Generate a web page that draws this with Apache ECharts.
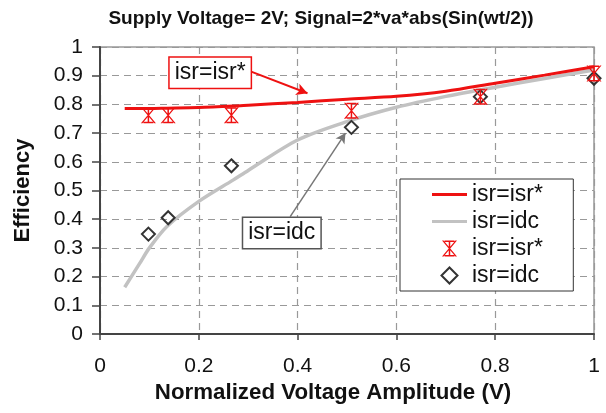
<!DOCTYPE html>
<html>
<head>
<meta charset="utf-8">
<script src="https://cdn.jsdelivr.net/npm/echarts@6/dist/echarts.min.js"></script>
<style>
  html, body { margin: 0; padding: 0; background: #fff; }
  #chart { width: 606px; height: 413px; }
</style>
</head>
<body>
<div id="chart"></div>
<script>
// Simulated efficiency curves (x = normalized voltage amplitude)
const curveX   = [0.05, 0.08, 0.1, 0.135, 0.2, 0.27, 0.3, 0.4, 0.5, 0.6, 0.7, 0.8, 0.9, 1.0];
const isrStarY = [0.786, 0.786, 0.786, 0.787, 0.789, 0.794, 0.797, 0.807, 0.818, 0.828, 0.846, 0.874, 0.902, 0.931];
const isrIdcY  = [0.163, 0.245, 0.30, 0.374, 0.462, 0.537, 0.57, 0.676, 0.74, 0.79, 0.828, 0.86, 0.89, 0.92];

// Measured points
const measX      = [0.098, 0.138, 0.266, 0.509, 0.770, 1.0];
const measStarY  = [0.762, 0.762, 0.762, 0.778, 0.827, 0.908];
const measIdcY   = [0.348, 0.405, 0.586, 0.720, 0.827, 0.891];

const xTicks = [0, 0.2, 0.4, 0.6, 0.8, 1];

const FONT = '"Liberation Sans", Arial, sans-serif';
const RED = '#ee1111';
const GRAY = '#c2c2c2';

// Excel-style star marker built from thin filled strokes:
// two diagonals, a vertical bar and caps at top and bottom
const starSymbol = 'path://' +
  'M0,0L1.6,0L15,16L13.4,16Z' +
  'M13.4,0L15,0L1.6,16L0,16Z' +
  'M6.75,0L8.25,0L8.25,16L6.75,16Z' +
  'M2.5,0L12.5,0L12.5,1.5L2.5,1.5Z' +
  'M2.5,14.5L12.5,14.5L12.5,16L2.5,16Z';
const diamondSymbol = 'path://M6,0L12,6L6,12L0,6Z';
// Plain bar used as legend sample for the curves
const lineIcon = 'path://M0,0L35,0L35,3L0,3Z';

function zip(xs, ys) { return xs.map((x, i) => [x, ys[i]]); }

const chart = echarts.init(document.getElementById('chart'), null, { renderer: 'canvas' });

const option = {
  animation: false,
  backgroundColor: '#fff',
  title: {
    text: 'Supply Voltage= 2V; Signal=2*va*abs(Sin(wt/2))',
    left: 316, top: 4, textAlign: 'center',
    textStyle: { fontFamily: FONT, fontWeight: 'bold', fontSize: 19, color: '#111' }
  },
  grid: {
    left: 100, right: 12, top: 47, bottom: 79,
    show: true, borderColor: '#999', borderWidth: 1.5, backgroundColor: 'transparent'
  },
  xAxis: {
    type: 'value', min: 0, max: 1, interval: 0.2,
    name: 'Normalized Voltage Amplitude (V)', nameLocation: 'middle', nameGap: 43,
    nameTextStyle: {
      fontFamily: FONT, fontWeight: 'bold', fontSize: 22.3, color: '#111',
      padding: [0, 28, 0, 0]
    },
    axisLine: { show: true, onZero: false, lineStyle: { color: '#444', width: 2 } },
    axisTick: { show: true, length: 6, lineStyle: { color: '#444', width: 1.5 } },
    axisLabel: {
      fontFamily: FONT, fontSize: 21, color: '#111', margin: 22,
      formatter: v => String(xTicks.find(t => Math.abs(t - v) < 1e-9) ?? v)
    },
    splitLine: { show: true, lineStyle: { color: '#999', type: [7, 5], width: 1.2 } }
  },
  yAxis: {
    type: 'value', min: 0, max: 1, interval: 0.1,
    name: 'Efficiency', nameLocation: 'middle', nameGap: 66, nameRotate: 90,
    nameTextStyle: { fontFamily: FONT, fontWeight: 'bold', fontSize: 22, color: '#111' },
    axisLine: { show: true, onZero: false, lineStyle: { color: '#444', width: 2 } },
    axisTick: { show: true, length: 8, lineStyle: { color: '#444', width: 1.5 } },
    axisLabel: {
      fontFamily: FONT, fontSize: 21, color: '#111', margin: 17,
      formatter: v => String(Math.round(v * 10) / 10)
    },
    splitLine: { show: true, lineStyle: { color: '#999', type: [7, 5], width: 1.2 } }
  },
  legend: {
    orient: 'vertical',
    left: 400, top: 179,
    padding: [4, 24, 4, 32],
    itemGap: 4,
    itemWidth: 35, itemHeight: 16,
    symbolKeepAspect: true,
    backgroundColor: '#fff',
    borderColor: '#333', borderWidth: 1,
    borderRadius: 0,
    textStyle: { fontFamily: FONT, fontSize: 23, color: '#111' },
    data: [
      { name: 'isr=isr*', icon: lineIcon },
      { name: 'isr=idc', icon: lineIcon },
      { name: 'isr=isr* ' },
      { name: 'isr=idc ' }
    ]
  },
  series: [
    {
      name: 'isr=isr*', type: 'line', data: zip(curveX, isrStarY),
      symbol: 'none', smooth: 0.3, z: 3,
      lineStyle: { color: RED, width: 3 },
      itemStyle: { color: RED },
      markLine: {
        silent: true, symbol: ['none', 'arrow'], symbolSize: [9, 11],
        label: { show: false },
        lineStyle: { color: RED, width: 2, type: 'solid' },
        data: [[{ coord: [0.306, 0.914] }, { coord: [0.42, 0.839] }]]
      }
    },
    {
      name: 'isr=idc', type: 'line', data: zip(curveX, isrIdcY),
      symbol: 'none', smooth: 0.3, z: 2,
      lineStyle: { color: GRAY, width: 3.5 },
      itemStyle: { color: GRAY },
      markLine: {
        silent: true, symbol: ['none', 'arrow'], symbolSize: [8, 10],
        label: { show: false },
        lineStyle: { color: '#777', width: 1.5, type: 'solid' },
        data: [[{ coord: [0.385, 0.409] }, { coord: [0.497, 0.70] }]]
      }
    },
    {
      name: 'isr=isr* ', type: 'scatter', data: zip(measX, measStarY),
      symbol: starSymbol, symbolSize: [15, 16], z: 5,
      itemStyle: { color: RED, opacity: 1 }
    },
    {
      name: 'isr=idc ', type: 'scatter', data: zip(measX, measIdcY),
      symbol: diamondSymbol, symbolSize: [13, 13], z: 4,
      itemStyle: { color: 'rgba(0,0,0,0)', borderColor: '#333', borderWidth: 2, opacity: 1 }
    }
  ]
};

chart.setOption(option);

// Callout boxes anchored in data coordinates
function callout(text, x, y, border) {
  const p = chart.convertToPixel({ gridIndex: 0 }, [x, y]);
  return {
    type: 'text', x: p[0], y: p[1], z: 20,
    style: {
      text: text, font: '23px ' + FONT, fill: '#111',
      backgroundColor: '#fff', borderColor: border, borderWidth: 1.5,
      padding: [4, 5, 3, 5], align: 'center', verticalAlign: 'middle'
    }
  };
}

chart.setOption({
  graphic: [
    callout('isr=isr*', 0.223, 0.91, RED),
    callout('isr=idc', 0.368, 0.352, '#555')
  ]
});
</script>
</body>
</html>
